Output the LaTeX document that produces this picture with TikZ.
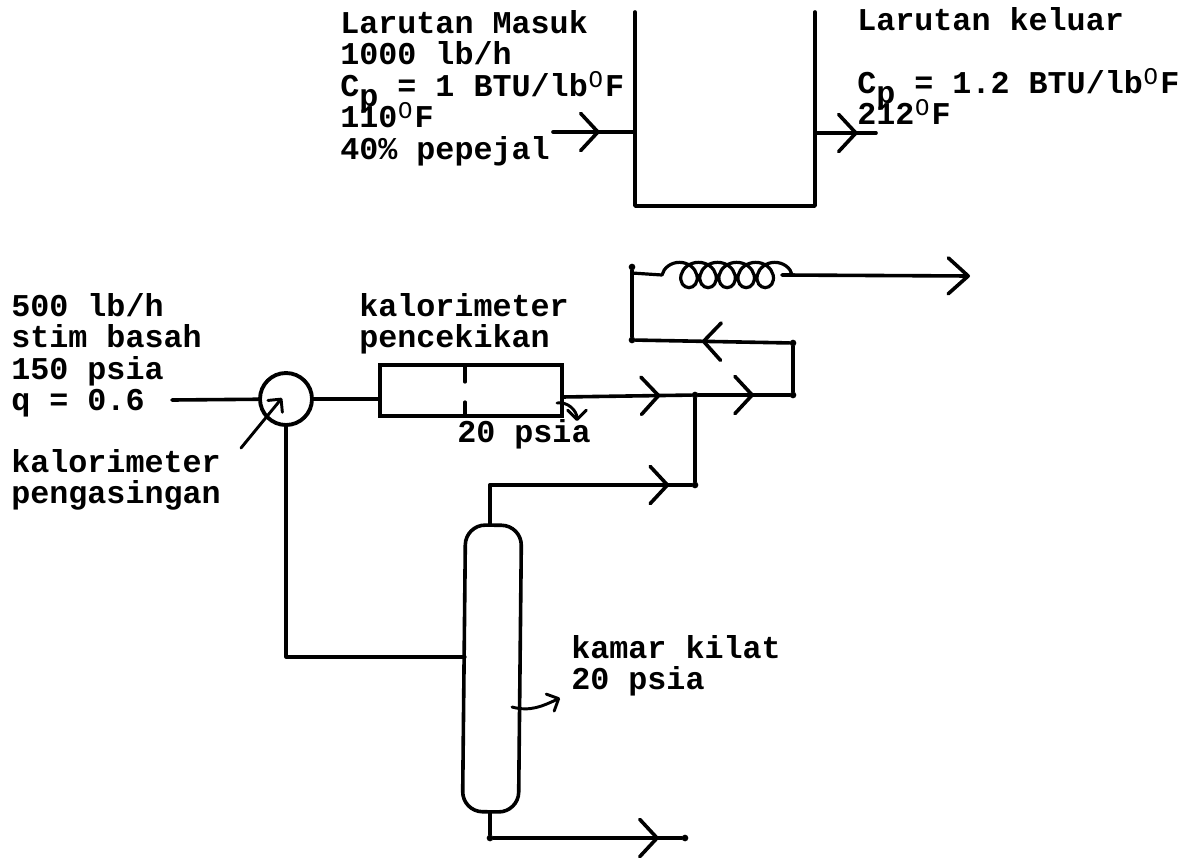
\documentclass[tikz,border=0pt]{standalone}
\usepackage{fontspec}
\setmainfont{Liberation Mono}
\usepackage{xcolor}
\usetikzlibrary{arrows.meta, positioning, decorations.markings, decorations.pathmorphing}
\newcommand{\degF}{\hspace{0.6pt}\raisebox{6.5pt}[0pt][0pt]{\fontsize{18}{18}\selectfont\mdseries O}\hspace{1.6pt}F}
\newcommand{\Csub}{C\raisebox{-7.5pt}[0pt][0pt]{p}}
\tikzstyle{lbl} = [anchor=north west, align=left, inner sep=0pt, font=\fontsize{23.8}{23.6}\selectfont\bfseries]
\tikzstyle{pipe} = [line width=2.7pt, line cap=round, line join=round]
\tikzstyle{thin pipe} = [line width=2.4pt, line cap=round, line join=round]
\tikzstyle{unit} = [draw, line width=2.7pt, inner sep=0pt]
\tikzstyle{dot} = [circle, fill=black, inner sep=0pt, minimum size=5pt]
\tikzset{
  head/.style={-{Straight Barb[length=15pt, width=27pt, round]}},
  flow/.style={postaction={decorate, decoration={markings,
    mark=at position #1 with {\arrow{Straight Barb[length=13pt, width=28pt, round]}}}}},
  tiny/.style={-{Straight Barb[length=7pt, width=14pt, round]}, line width=2.2pt, line cap=round}
}

\begin{document}
\begin{tikzpicture}[x=0.75pt, y=-0.75pt]
  \useasboundingbox (0,0) rectangle (1201,857);

  % Tank
  \coordinate (tankTL) at (635,12);
  \coordinate (tankBL) at (635,206);
  \coordinate (tankBR) at (815,206);
  \coordinate (tankTR) at (815,12);
  \coordinate (feedIn) at (553,132);
  \coordinate (feedEnd) at (635,132);
  \coordinate (prodOut) at (815,133);
  \coordinate (prodEnd) at (876,133);
  \draw[pipe] (tankTL) -- (tankBL) -- (tankBR) -- (tankTR);
  \draw[pipe, flow=0.57] (feedIn) -- (feedEnd);
  \draw[pipe, flow=0.70] (prodOut) -- (prodEnd);

  % Labels, top
  \node[lbl] (masuk) at (340,10) {Larutan Masuk\\1000 lb/h\\\Csub{} = 1 BTU/lb\degF\\110\degF\\40\% pepejal};
  \node[lbl] (keluar) at (857,7) {Larutan keluar\\[23.6pt]\Csub{} = 1.2 BTU/lb\degF\\212\degF};

  % Units
  \node[draw, circle, line width=2.9pt, minimum size=39pt, inner sep=0pt] (sep) at (286,399) {};
  \node[unit, minimum width=136.5pt, minimum height=38pt] (thr) at (471,390.5) {};
  \node[unit, rounded corners=15pt, minimum width=42pt, minimum height=215pt, rotate=-0.6] (flash) at (492,668.5) {};

  % Junctions
  \node[dot] (j1) at (695,395) {};
  \node[dot] (j2) at (793,395) {};
  \node[dot] (j3) at (793,343) {};
  \node[dot] (j4) at (632,340) {};
  \node[dot] (j5) at (695,485) {};
  \node[dot] (j6) at (632,267) {};
  \node[dot] (j7) at (490,838) {};
  \node[dot] (j8) at (685,838) {};
  \coordinate (steamIn) at (172,400);
  \coordinate (thrOut) at (562,397);
  \coordinate (vapor) at (490,485);
  \coordinate (coilS) at (632,273);
  \coordinate (coilA) at (662,275);
  \coordinate (coilB) at (795,275);
  \coordinate (coilEnd) at (782,275);
  \coordinate (condOut) at (970,276);
  \coordinate (liqIn) at (465,657);
  \coordinate (liqTurn) at (286,657);

  % Pipes
  \draw[pipe] (steamIn) -- (sep);
  \draw[pipe] (sep) -- (sep -| thr.west);
  \draw[pipe, flow=0.76] (thrOut) -- (j1);
  \draw[pipe, flow=0.61] (j1) -- (j2);
  \draw[pipe] (j2) -- (j3);
  \draw[pipe, flow=0.57] (j3) -- (j4);
  \draw[pipe] (j4) -- (j6);
  \draw[pipe] (j1) -- (j5);
  \draw[pipe, flow=0.89] (vapor) -- (j5);
  \draw[pipe] (vapor) -- (vapor |- flash.north);
  \draw[pipe] (j7 |- flash.south) -- (j7);
  \draw[pipe, flow=0.88] (j7) -- (j8);
  \draw[thin pipe] (sep.south) -- (liqTurn) -- (liqIn);

  % Coil
  \draw[thin pipe] (coilS) -- (coilA);
  \draw[line width=2.4pt, decorate, decoration={coil, aspect=1, amplitude=9.5pt, segment length=14.3pt}] (coilA) -- (coilB);
  \draw[pipe, head] (coilEnd) -- (condOut);

  % Orifice
  \coordinate (orA) at (465,365);
  \coordinate (orB) at (465,382);
  \coordinate (orC) at (465,402);
  \coordinate (orD) at (465,416);
  \draw[thin pipe] (orA) -- (orB);
  \draw[thin pipe] (orC) -- (orD);

  % Pointers
  \coordinate (ptrA) at (241,448);
  \coordinate (ptrB) at (282,398);
  \coordinate (ptrC) at (557,403);
  \coordinate (ptrD) at (577,421);
  \coordinate (ptrE) at (512,707);
  \coordinate (ptrF) at (560,698);
  \draw[tiny] (ptrA) -- (ptrB);
  \draw[tiny] (ptrC) to[out=10, in=90] (ptrD);
  \draw[tiny] (ptrE) to[out=-15, in=205] (ptrF);

  % Labels
  \node[lbl] (steam) at (11,293) {500 lb/h\\stim basah\\150 psia\\q = 0.6};
  \node[lbl] (pengasingan) at (11,449) {kalorimeter\\pengasingan};
  \node[lbl] (pencekikan) at (359,293) {kalorimeter\\pencekikan};
  \node[lbl] (thrP) at (457,419) {20 psia};
  \node[lbl] (kamar) at (571,635) {kamar kilat\\20 psia};
\end{tikzpicture}
\end{document}
